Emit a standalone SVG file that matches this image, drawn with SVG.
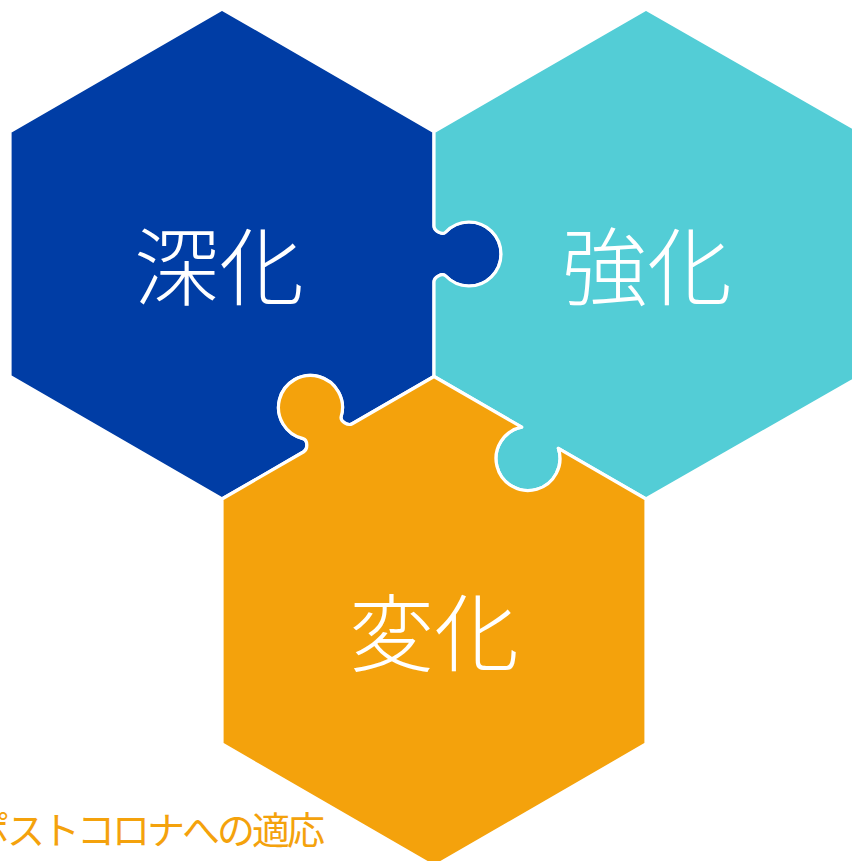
<svg xmlns="http://www.w3.org/2000/svg" width="852" height="861" viewBox="0 0 852 861">
<style>
.piece{stroke:#ffffff;stroke-width:3.2;stroke-linejoin:round}
.big{font-family:"Noto Sans CJK JP","Noto Sans CJK SC",sans-serif;font-size:85px;font-weight:300;fill:#ffffff;text-anchor:middle}
.cap{font-family:"Noto Sans CJK JP","Noto Sans CJK SC",sans-serif;font-size:38px;font-weight:400;fill:#f4a20c;letter-spacing:-3px}
</style>
<rect width="852" height="861" fill="#ffffff"/>
<g id="connectors"/>
<g id="node-shinka">
<path class="piece" fill="#003da5" d="M222,9 L434,131.5 L434,226 C434,231 442.3,235.5 445.76,232 A32,32 0 1 1 445.76,276 C442.3,272.5 434,277 434,282 L434,376.5 L352.24,423.74 C347.91,426.24 339.87,421.3 341.17,416.56 A32,32 0 1 0 303.07,438.58 C307.83,439.82 308.09,449.26 303.76,451.76 L222,499 L10,376.5 L10,131.5 Z"/>
<text class="big" x="219" y="299">深化</text>
</g>
<g id="node-kyouka">
<path class="piece" fill="#53cdd6" d="M646,9 L860,131.5 L860,376.5 L646,499 L558.33,448.34 A32,32 0 1 1 521.67,427.16 L434,376.5 L434,282 C434,277 442.3,272.5 445.76,276 A32,32 0 1 0 445.76,232 C442.3,235.5 434,231 434,226 L434,131.5 Z"/>
<text class="big" x="647" y="299">強化</text>
</g>
<g id="node-henka">
<path class="piece" fill="#f4a20c" d="M434,376.5 L521.67,427.16 A32,32 0 1 0 558.33,448.34 L646,499 L646,744 L434,866.5 L222,744 L222,499 L303.76,451.76 C308.09,449.26 307.83,439.82 303.07,438.58 A32,32 0 1 1 341.17,416.56 C339.87,421.3 347.91,426.24 352.24,423.74 Z"/>
<text class="big" x="434" y="665">変化</text>
</g>
<g id="caption">
<text class="cap" x="-28" y="844">ポストコロナへの適応</text>
</g>
</svg>
